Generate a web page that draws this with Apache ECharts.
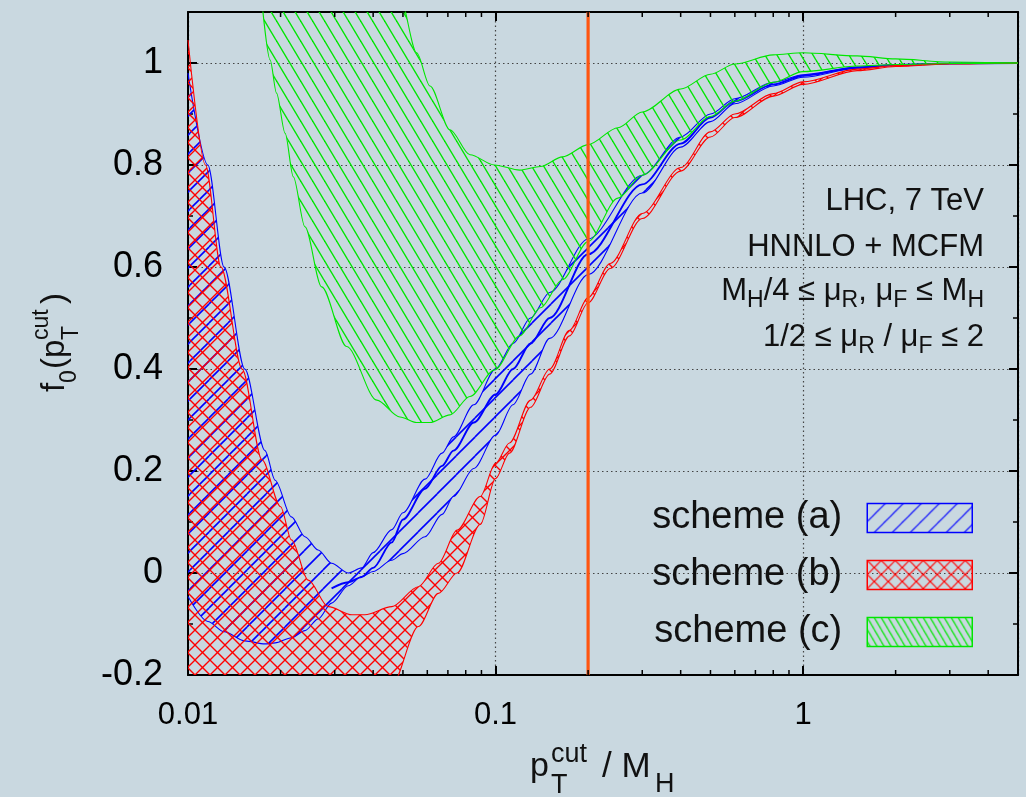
<!DOCTYPE html>
<html><head><meta charset="utf-8">
<script src="https://cdn.jsdelivr.net/npm/echarts@6/dist/echarts.min.js"></script>
<style>html,body{margin:0;padding:0;background:#c9d8e0;}#chart{width:1026px;height:797px;}</style>
</head><body><div id="chart"></div>
<script>
// ---------------- data ----------------
// scheme (a): band lower / upper, plus central curve
const xA     = [0.01, 0.0116, 0.0131, 0.0153, 0.0178, 0.0192, 0.0217, 0.024, 0.0265, 0.0293, 0.0332, 0.0367, 0.04, 0.046, 0.05, 0.059, 0.067, 0.073, 0.085, 0.1, 0.114, 0.13, 0.15, 0.2, 0.3, 0.4, 0.5, 0.6, 0.8, 1, 1.5, 2, 3, 5];
const aLower = [-0.046, -0.095, -0.115, -0.133, -0.139, -0.137, -0.127, -0.113, -0.09, -0.059, -0.025, -0.007, 0.003, 0.025, 0.038, 0.071, 0.115, 0.15, 0.205, 0.27, 0.33, 0.39, 0.46, 0.585, 0.745, 0.835, 0.885, 0.92, 0.955, 0.972, 0.99, 0.995, 0.999, 1.0];
const aUpper = [0.98, 0.80, 0.60, 0.40, 0.24, 0.182, 0.11, 0.071, 0.045, 0.019, 0.0, 0.01, 0.04, 0.085, 0.118, 0.184, 0.235, 0.267, 0.33, 0.40, 0.45, 0.50, 0.55, 0.655, 0.78, 0.855, 0.90, 0.93, 0.962, 0.977, 0.992, 0.996, 0.999, 1.0];
const xAmid  = [0.0293, 0.0332, 0.0367, 0.04, 0.046, 0.05, 0.059, 0.067, 0.073, 0.085, 0.1, 0.114, 0.13, 0.15, 0.2, 0.3, 0.4, 0.5, 0.6, 0.8, 1, 1.5, 2, 3, 5];
const aMid   = [-0.03, -0.018, -0.008, 0.01, 0.06, 0.105, 0.165, 0.21, 0.24, 0.295, 0.35, 0.40, 0.45, 0.50, 0.625, 0.762, 0.842, 0.893, 0.925, 0.958, 0.975, 0.991, 0.996, 0.999, 1.0];
// scheme (b)
const xB     = [0.01, 0.0114, 0.0128, 0.015, 0.0174, 0.02, 0.0217, 0.0246, 0.0286, 0.0341, 0.0376, 0.046, 0.0561, 0.0652, 0.075, 0.0892, 0.1, 0.111, 0.13, 0.15, 0.174, 0.2, 0.236, 0.3, 0.4, 0.5, 0.6, 0.8, 1, 1.5, 2, 3, 5];
const bLower = [-0.6, -0.6, -0.6, -0.6, -0.6, -0.6, -0.6, -0.55, -0.48, -0.4, -0.34, -0.22, -0.105, -0.04, 0.0, 0.095, 0.185, 0.235, 0.325, 0.39, 0.465, 0.53, 0.597, 0.695, 0.788, 0.855, 0.893, 0.935, 0.958, 0.985, 0.993, 0.998, 1.0];
const bUpper = [1.045, 0.80, 0.60, 0.40, 0.222, 0.13, 0.065, -0.014, -0.066, -0.082, -0.082, -0.066, -0.027, 0.019, 0.084, 0.15, 0.215, 0.255, 0.339, 0.40, 0.476, 0.54, 0.607, 0.705, 0.795, 0.865, 0.90, 0.94, 0.963, 0.988, 0.995, 0.999, 1.0];
// scheme (c)
const xC     = [0.0172, 0.0185, 0.0194, 0.0207, 0.022, 0.024, 0.0272, 0.0328, 0.0411, 0.0489, 0.0554, 0.0612, 0.0711, 0.0826, 0.0992, 0.12, 0.14, 0.165, 0.2, 0.25, 0.3, 0.4, 0.5, 0.6, 0.8, 1, 1.5, 2, 3, 5];
const cLower = [1.15, 1.006, 0.941, 0.862, 0.777, 0.679, 0.561, 0.444, 0.339, 0.306, 0.295, 0.295, 0.31, 0.346, 0.398, 0.465, 0.52, 0.575, 0.65, 0.735, 0.78, 0.849, 0.895, 0.925, 0.962, 0.983, 0.994, 0.997, 0.999, 1.0];
const cUpper = [2.0, 1.95, 1.9, 1.85, 1.8, 1.7, 1.6, 1.45, 1.28, 1.13, 1.02, 0.955, 0.869, 0.82, 0.80, 0.79, 0.797, 0.816, 0.84, 0.873, 0.904, 0.949, 0.978, 0.998, 1.016, 1.02, 1.014, 1.008, 1.002, 1.0];
// vertical cut line
const cutValue = 0.2;
// axes
const yTickLabels = ['-0.2', '0', '0.2', '0.4', '0.6', '0.8', '1'];
const xTickValues = [0.01, 0.1, 1];
const xTickLabels = ['0.01', '0.1', '1'];
const xMinorTicks = [0.02,0.03,0.04,0.05,0.06,0.07,0.08,0.09,0.2,0.3,0.4,0.5,0.6,0.7,0.8,0.9,2,3,4];
const legendNames = ['scheme (a)', 'scheme (b)', 'scheme (c)'];
// annotation lines: [text, isSubscript] pieces
const notes = [
  [['LHC, 7 TeV', 0]],
  [['HNNLO + MCFM', 0]],
  [['M', 0], ['H', 1], ['/4 ≤ μ', 0], ['R', 1], [', μ', 0], ['F', 1], [' ≤ M', 0], ['H', 1]],
  [['1/2 ≤ μ', 0], ['R', 1], [' / μ', 0], ['F', 1], [' ≤ 2', 0]]
];

// ---------------- patterns ----------------
function hatch(w, h, color, lw, dirs) {
  const c = document.createElement('canvas'); c.width = w; c.height = h;
  const g = c.getContext('2d'); g.strokeStyle = color; g.lineWidth = lw;
  dirs.forEach(d => {
    for (let i = -1; i <= 1; i++) for (let j = -1; j <= 1; j++) {
      g.beginPath();
      if (d === '/') { g.moveTo(i * w, (j + 1) * h); g.lineTo((i + 1) * w, j * h); }
      else { g.moveTo(i * w, j * h); g.lineTo((i + 1) * w, (j + 1) * h); }
      g.stroke();
    }
  });
  return { image: c, repeat: 'repeat' };
}
const BLUE = '#0000ff', RED = '#ff0000', GREEN = '#00e600';
const patA = hatch(19, 19, BLUE, 1.6, ['/']);
const patB = hatch(15, 15, RED, 1.35, ['/', '\\']);
const patC = hatch(12, 20, GREEN, 1.4, ['\\']);
const patAL = hatch(18, 18, BLUE, 1.2, ['/']);
const patBL = hatch(14, 14, RED, 1.2, ['/', '\\']);
const patCL = hatch(7, 12, GREEN, 1.2, ['\\']);

const SMOOTH = 0.3;
// area: data items are [y, x] with encode so that the stacked dimension is y
function band(name, xs, lo, hi, color, pat, z) {
  const common = { type: 'line', stack: name, stackStrategy: 'all', symbol: 'none', smooth: SMOOTH, smoothMonotone: 'x',
    encode: { x: 1, y: 0 }, lineStyle: { width: 0, opacity: 0 }, itemStyle: { color: color },
    z: z, silent: true, animation: false };
  const edge = (suffix, ys) => ({ type: 'line', name: name + suffix, data: xs.map((x, i) => [x, ys[i]]),
    symbol: 'none', smooth: SMOOTH, smoothMonotone: 'x', lineStyle: { color: color, width: 1.1 },
    z: z + 1, silent: true, animation: false });
  return [
    Object.assign({}, common, { name: name + ' base', data: xs.map((x, i) => [lo[i], x]) }),
    Object.assign({}, common, { name: name, data: xs.map((x, i) => [hi[i] - lo[i], x]),
      areaStyle: { color: pat, opacity: 1 } }),
    edge(' lower', lo), edge(' upper', hi)
  ];
}

const FONT = 'Liberation Sans, Arial, sans-serif';
const chart = echarts.init(document.getElementById('chart'));
const axisLine = { show: true, onZero: false, lineStyle: { color: '#000', width: 2 } };
const dotted = { show: true, lineStyle: { color: '#444', width: 1.2, type: [1.5, 3] } };

const series = [].concat(
  band(legendNames[0], xA, aLower, aUpper, BLUE, patA, 2),
  [{ type: 'line', name: 'a mid', data: xAmid.map((x, i) => [x, aMid[i]]), symbol: 'none', smooth: SMOOTH, smoothMonotone: 'x',
     lineStyle: { color: BLUE, width: 1.9 }, z: 3, silent: true, animation: false }],
  band(legendNames[1], xB, bLower, bUpper, RED, patB, 4),
  band(legendNames[2], xC, cLower, cUpper, GREEN, patC, 6),
  [{ type: 'line', name: 'cut', data: [[cutValue, -0.2], [cutValue, 1.1]], symbol: 'none',
     lineStyle: { color: '#ff5510', width: 3.2 }, z: 8, silent: true, animation: false },
   { type: 'custom', name: 'minor', data: xMinorTicks.map(v => [v]), z: 9, silent: true, animation: false,
     renderItem: function (params, api) {
       const b = api.coord([api.value(0), -0.2]);
       const t = api.coord([api.value(0), 1.1]);
       return { type: 'group', children: [
         { type: 'line', shape: { x1: b[0], y1: b[1], x2: b[0], y2: b[1] - 5 }, style: { stroke: '#000', lineWidth: 1.5 } },
         { type: 'line', shape: { x1: t[0], y1: t[1], x2: t[0], y2: t[1] + 5 }, style: { stroke: '#000', lineWidth: 1.5 } }
       ] };
     }, encode: { x: 0 } }]
);

const yBase = {
  type: 'value', min: -0.2, max: 1.1, interval: 0.2,
  axisLine: axisLine,
  axisTick: { show: true, inside: true, length: 9, lineStyle: { color: '#000', width: 2 } },
  minorTick: { show: true, splitNumber: 2, length: 5, lineStyle: { color: '#000', width: 1.5 } },
};
const xBase = {
  type: 'log', logBase: 10, min: 0.01, max: 5,
  axisLine: axisLine,
  axisTick: { show: true, inside: true, length: 9, lineStyle: { color: '#000', width: 2 } },
};
function xLabel(v) {
  for (let i = 0; i < xTickValues.length; i++) if (Math.abs(v / xTickValues[i] - 1) < 1e-6) return xTickLabels[i];
  return '';
}
function yLabel(v) {
  const i = Math.round((v + 0.2) / 0.2);
  if (Math.abs(v - (-0.2 + 0.2 * i)) > 1e-6) return '';
  return yTickLabels[i] || '';
}

// ----- annotation text layout (right aligned, with real subscripts) -----
const measureCtx = document.createElement('canvas').getContext('2d');
function noteLine(pieces, right, baseline) {
  const MAIN = 31, SUB = 23, DROP = 7;
  const widths = pieces.map(p => { measureCtx.font = (p[1] ? SUB : MAIN) + 'px ' + FONT; return measureCtx.measureText(p[0]).width; });
  let x = right - widths.reduce((a, b) => a + b, 0);
  return pieces.map((p, i) => {
    const fs = p[1] ? SUB : MAIN;
    const el = { type: 'text', x: x, y: baseline + (p[1] ? DROP : 0) + 0.15 * fs,
      style: { text: p[0], font: fs + 'px ' + FONT, fill: '#111', verticalAlign: 'bottom', align: 'left' } };
    x += widths[i];
    return el;
  });
}
const noteBaselines = [212, 258, 302, 348];
const noteEls = [];
notes.forEach((n, i) => noteLine(n, 984, noteBaselines[i]).forEach(e => noteEls.push(e)));

chart.setOption({
  backgroundColor: '#c9d8e0',
  animation: false,
  grid: { left: 188, right: 8, top: 12, bottom: 122, containLabel: false },
  xAxis: [
    Object.assign({}, xBase, { position: 'bottom',
      axisLabel: { fontSize: 31, fontFamily: FONT, color: '#000', margin: 25, formatter: xLabel, showMaxLabel: true },
      splitLine: dotted }),
    Object.assign({}, xBase, { position: 'top', axisLabel: { show: false }, splitLine: { show: false } })
  ],
  yAxis: [
    Object.assign({}, yBase, { position: 'left',
      axisLabel: { fontSize: 36, fontFamily: FONT, color: '#000', margin: 25, formatter: yLabel },
      splitLine: dotted }),
    Object.assign({}, yBase, { position: 'right', axisLabel: { show: false }, splitLine: { show: false } })
  ],
  legend: {
    data: [
      { name: legendNames[0], itemStyle: { color: patAL, borderColor: BLUE, borderWidth: 1.5 } },
      { name: legendNames[1], itemStyle: { color: patBL, borderColor: RED, borderWidth: 1.5 } },
      { name: legendNames[2], itemStyle: { color: patCL, borderColor: GREEN, borderWidth: 1.5 } }
    ],
    icon: 'rect', orient: 'vertical', align: 'right', right: 53, top: 499,
    itemWidth: 105, itemHeight: 29, itemGap: 19, padding: 0, selectedMode: false,
    textStyle: { fontSize: 38, fontFamily: FONT, color: '#111', padding: [0, 20, 0, 0] }
  },
  graphic: noteEls.concat([
    // x-axis title
    { type: 'group', left: 530, top: 741, children: [
      { type: 'text', x: 0, y: 9, style: { text: 'p', font: '34px ' + FONT, fill: '#111' } },
      { type: 'text', x: 21, y: 0, style: { text: 'cut', font: '27px ' + FONT, fill: '#111' } },
      { type: 'text', x: 21, y: 31, style: { text: 'T', font: '27px ' + FONT, fill: '#111' } },
      { type: 'text', x: 72, y: 9, style: { text: '/ M', font: '35px ' + FONT, fill: '#111' } },
      { type: 'text', x: 125, y: 30, style: { text: 'H', font: '27px ' + FONT, fill: '#111' } }
    ] },
    // y-axis title (rotated)
    { type: 'group', x: 30, y: 392, rotation: Math.PI / 2, children: [
      { type: 'text', x: 0, y: 8, style: { text: 'f', font: '33px ' + FONT, fill: '#111' } },
      { type: 'text', x: 9, y: 28, style: { text: '0', font: '23px ' + FONT, fill: '#111' } },
      { type: 'text', x: 23, y: 8, style: { text: '(p', font: '33px ' + FONT, fill: '#111' } },
      { type: 'text', x: 52, y: 0, style: { text: 'cut', font: '23px ' + FONT, fill: '#111' } },
      { type: 'text', x: 52, y: 30, style: { text: 'T', font: '23px ' + FONT, fill: '#111' } },
      { type: 'text', x: 88, y: 8, style: { text: ')', font: '33px ' + FONT, fill: '#111' } }
    ] }
  ]),
  series: series
});
</script></body></html>
